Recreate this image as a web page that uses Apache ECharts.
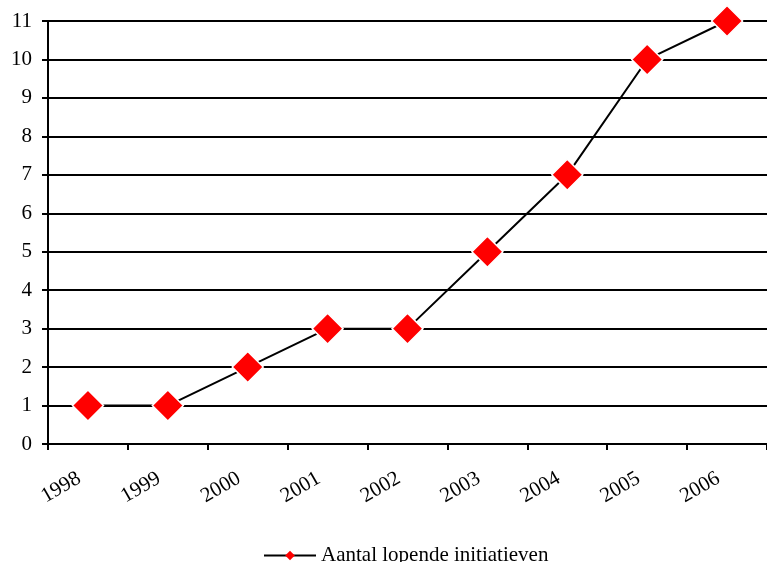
<!DOCTYPE html>
<html>
<head>
<meta charset="utf-8">
<script src="https://cdn.jsdelivr.net/npm/echarts@6/dist/echarts.min.js"></script>
<style>
  html, body { margin: 0; padding: 0; background: #fff; }
  #chart { width: 767px; height: 562px; }
</style>
</head>
<body>
<div id="chart"></div>
<script>
// Number of running initiatives per year
const years = ['1998', '1999', '2000', '2001', '2002', '2003', '2004', '2005', '2006'];
const initiatives = [1, 1, 2, 3, 3, 5, 7, 10, 11];
const seriesName = 'Aantal lopende initiatieven';

const FONT = '"Liberation Serif", "Times New Roman", serif';

const chart = echarts.init(document.getElementById('chart'), null, { renderer: 'canvas' });

chart.setOption({
  backgroundColor: '#ffffff',
  animation: false,
  grid: { left: 48, right: -3, top: 21, bottom: 118, containLabel: false },
  xAxis: {
    type: 'category',
    data: years,
    boundaryGap: true,
    axisLine: { show: true, lineStyle: { color: '#000', width: 2 } },
    axisTick: { show: true, length: 6, lineStyle: { color: '#000', width: 2 } },
    axisLabel: {
      rotate: 30,
      margin: 28,
      padding: [0, 10, 0, 0],
      color: '#000',
      fontFamily: FONT,
      fontSize: 21
    },
    splitLine: { show: false }
  },
  yAxis: {
    type: 'value',
    min: 0,
    max: 11,
    interval: 1,
    axisLine: { show: true, lineStyle: { color: '#000', width: 2 } },
    axisTick: { show: true, length: 6, lineStyle: { color: '#000', width: 2 } },
    axisLabel: {
      margin: 16,
      color: '#000',
      fontFamily: FONT,
      fontSize: 21
    },
    splitLine: { show: true, lineStyle: { color: '#000', width: 2 } }
  },
  legend: {
    show: true,
    left: 258,
    top: 540,
    itemWidth: 52,
    itemHeight: 12,
    itemGap: 10,
    itemStyle: { borderWidth: 0 },
    textStyle: { color: '#000', fontFamily: FONT, fontSize: 21 },
    data: [seriesName]
  },
  series: [{
    name: seriesName,
    type: 'line',
    data: initiatives,
    symbol: 'diamond',
    symbolSize: 31,
    lineStyle: { color: '#000', width: 2 },
    itemStyle: { color: '#ff0000', borderColor: '#ffffff', borderWidth: 1.5 },
    z: 5
  }]
});
</script>
</body>
</html>
